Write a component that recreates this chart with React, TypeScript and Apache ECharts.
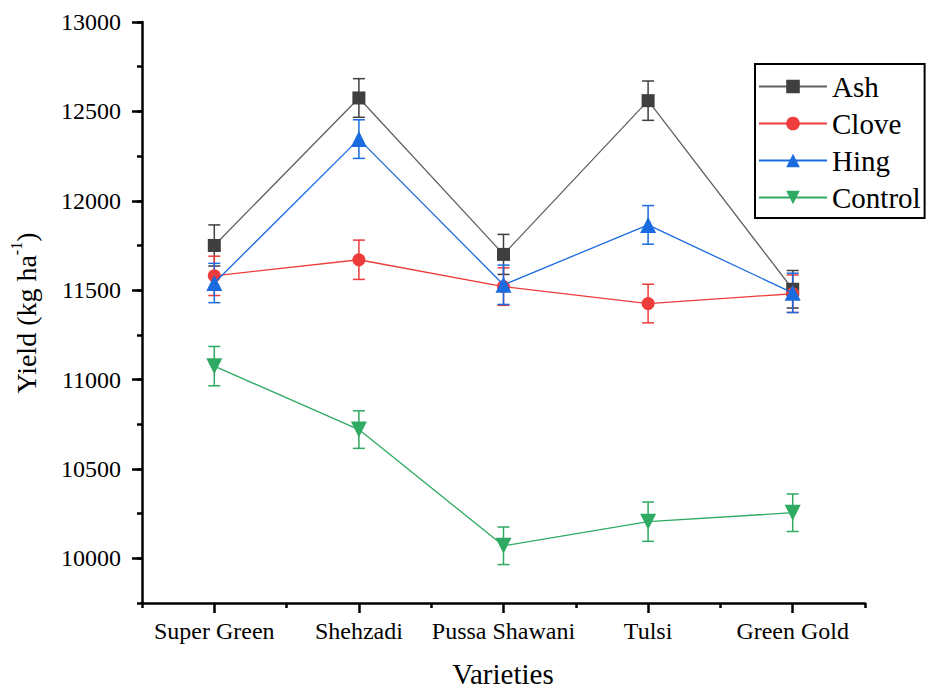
import React, { useEffect, useRef } from 'react';
import * as echarts from 'echarts';

const varieties = ['Super Green', 'Shehzadi', 'Pussa Shawani', 'Tulsi', 'Green Gold'];
const ash = [11750, 12575, 11700, 12560, 11505];
const ashErr = [115, 108, 112, 110, 105];
const clove = [11580, 11670, 11520, 11425, 11480];
const cloveErr = [110, 110, 105, 108, 105];
const hing = [11540, 12345, 11530, 11865, 11485];
const hingErr = [110, 108, 110, 108, 110];
const control = [11075, 10720, 10070, 10205, 10255];
const controlErr = [110, 105, 105, 110, 105];
const yTickLabels = ['10000', '10500', '11000', '11500', '12000', '12500', '13000'];
const yMin = 9750;
const yMax = 13000;
const yMinorStep = 250;

const FONT = '"Liberation Serif", "Times New Roman", serif';

const seriesDefs = [
  { name: 'Ash', data: ash, err: ashErr, symbol: 'rect', rotate: 0, size: 13, line: '#606060', color: '#3f3f3f' },
  { name: 'Clove', data: clove, err: cloveErr, symbol: 'circle', rotate: 0, size: 13, line: '#ee3b3b', color: '#ee3b3b' },
  { name: 'Hing', data: hing, err: hingErr, symbol: 'triangle', rotate: 0, size: 16, line: '#1a6be0', color: '#1a6be0' },
  { name: 'Control', data: control, err: controlErr, symbol: 'triangle', rotate: 180, size: 16, line: '#2eaa62', color: '#2eaa62' },
];

export default function App() {
  const ref = useRef<HTMLDivElement>(null);
  useEffect(() => {
    if (!ref.current) return;
    const chart = echarts.init(ref.current, undefined, { renderer: 'svg' });
    const yCats: string[] = [];
    for (let v = yMin; v <= yMax; v += yMinorStep) yCats.push(String(v));
    const isMajor = (_i: number, val: string) => yTickLabels.indexOf(val) >= 0;

    const series: any[] = [];
    seriesDefs.forEach((s) => {
      series.push({
        name: s.name + ' err',
        type: 'custom',
        xAxisIndex: 0,
        yAxisIndex: 0,
        z: 2,
        silent: true,
        data: s.data.map((v, i) => [i, v - s.err[i], v + s.err[i]]),
        encode: { x: 0, y: [1, 2] },
        renderItem: (params: any, api: any) => {
          const x = api.value(0);
          const top = api.coord([x, api.value(2)]);
          const bot = api.coord([x, api.value(1)]);
          const w = 6;
          const style = { stroke: s.color, lineWidth: 1.5 };
          return {
            type: 'group',
            children: [
              { type: 'line', shape: { x1: top[0], y1: top[1], x2: bot[0], y2: bot[1] }, style },
              { type: 'line', shape: { x1: top[0] - w, y1: top[1], x2: top[0] + w, y2: top[1] }, style },
              { type: 'line', shape: { x1: bot[0] - w, y1: bot[1], x2: bot[0] + w, y2: bot[1] }, style },
            ],
          };
        },
      });
    });
    seriesDefs.forEach((s, si) => {
      series.push({
        name: s.name,
        type: 'line',
        xAxisIndex: 0,
        yAxisIndex: 0,
        z: 3 + si,
        data: s.data,
        symbol: s.symbol,
        symbolRotate: s.rotate,
        symbolSize: s.size,
        showAllSymbol: true,
        lineStyle: { color: s.line, width: 1.3 },
        itemStyle: { color: s.color, opacity: 1 },
      });
    });

    chart.setOption({
      animation: false,
      backgroundColor: '#ffffff',
      grid: { left: 142, right: 63, top: 22, bottom: 88, containLabel: false },
      xAxis: [
        {
          type: 'category',
          data: varieties,
          boundaryGap: true,
          position: 'bottom',
          axisLine: { show: true, lineStyle: { color: '#000', width: 2.5 } },
          axisTick: { show: true, length: 5, lineStyle: { color: '#000', width: 2.5 } },
          axisLabel: { show: false },
          splitLine: { show: false },
        },
        {
          type: 'category',
          data: varieties,
          boundaryGap: true,
          position: 'bottom',
          axisLine: { show: false },
          axisTick: { show: true, alignWithLabel: true, length: 10, lineStyle: { color: '#000', width: 2.5 } },
          axisLabel: { show: true, fontFamily: FONT, fontSize: 24, color: '#000', margin: 16, interval: 0 },
          splitLine: { show: false },
        },
      ],
      yAxis: [
        {
          type: 'value',
          min: yMin,
          max: yMax,
          interval: yMinorStep,
          position: 'left',
          axisLine: { show: true, lineStyle: { color: '#000', width: 2.5 } },
          axisTick: { show: true, length: 5, lineStyle: { color: '#000', width: 2.5 } },
          axisLabel: { show: false },
          splitLine: { show: false },
        },
        {
          type: 'category',
          data: yCats,
          boundaryGap: false,
          position: 'left',
          axisLine: { show: false },
          axisTick: { show: true, length: 10, interval: isMajor, lineStyle: { color: '#000', width: 2.5 } },
          axisLabel: { show: true, interval: isMajor, fontFamily: FONT, fontSize: 24, color: '#000', margin: 21 },
          splitLine: { show: false },
        },
      ],
      legend: {
        data: seriesDefs.map((s) => s.name),
        orient: 'vertical',
        left: 755,
        top: 64,
        itemWidth: 68,
        itemHeight: 17,
        itemGap: 8,
        padding: [8, 4, 6, 3],
        borderColor: '#000',
        borderWidth: 2,
        borderRadius: 0,
        backgroundColor: '#fff',
        textStyle: { fontFamily: FONT, fontSize: 29, color: '#000', lineHeight: 29 },
      },
      graphic: [
        {
          type: 'text',
          x: 24,
          y: 313,
          rotation: Math.PI / 2,
          style: {
            text: '{a|Yield (kg ha}{s|-1}{a|)}',
            rich: {
              a: { fontFamily: FONT, fontSize: 28, fill: '#000', lineHeight: 32, verticalAlign: 'bottom' },
              s: { fontFamily: FONT, fontSize: 16, fill: '#000', lineHeight: 32, verticalAlign: 'top' },
            },
            align: 'center',
            verticalAlign: 'middle',
          },
        },
        {
          type: 'text',
          x: 503,
          y: 674,
          style: {
            text: 'Varieties',
            fontFamily: FONT,
            fontSize: 29,
            fill: '#000',
            align: 'center',
            verticalAlign: 'middle',
          },
        },
      ],
      series,
    });
    return () => chart.dispose();
  }, []);
  return <div ref={ref} style={{ position: 'fixed', left: 0, top: 0, width: 928, height: 691 }} />;
}
